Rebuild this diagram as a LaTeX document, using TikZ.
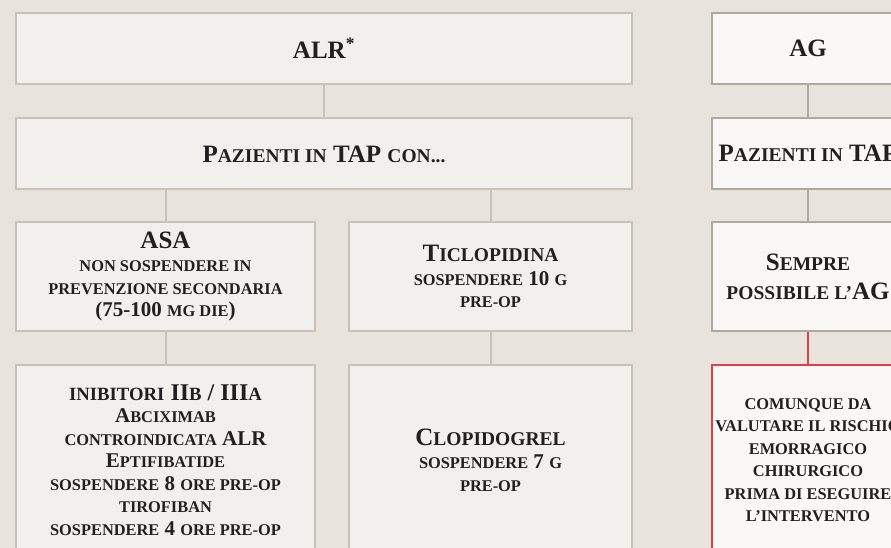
\documentclass[tikz,border=0pt]{standalone}
\usepackage{fontspec}
\setmainfont{Liberation Serif}
\usepackage{xcolor}

\definecolor{bgcol}{HTML}{E8E3DD}
\definecolor{boxfill}{HTML}{F2F0EC}
\definecolor{boxline}{HTML}{CAC2B9}
\definecolor{agfill}{HTML}{F9F8F6}
\definecolor{agline}{HTML}{B1A89E}
\definecolor{warnline}{HTML}{D8414A}
\definecolor{ink}{HTML}{231F20}

% fake small caps: uppercase text set smaller
\makeatletter
\newcommand\sm[1]{{\fontsize{\fpeval{0.78*\f@size}}{\f@baselineskip}\selectfont #1}}
\makeatother
\newcommand\hd{\fontsize{25}{29}\selectfont}

\begin{document}
\begin{tikzpicture}[x=1pt, y=-1pt,
    card/.style={draw=boxline, fill=boxfill, line width=2pt, inner sep=0pt,
        text=ink, align=center, font=\bfseries\fontsize{21}{22.5}\selectfont},
    agcard/.style={card, draw=agline, fill=agfill},
    warncard/.style={agcard, draw=warnline},
    head/.style={font=\bfseries\hd},
    wide/.style={minimum width=616pt, minimum height=71pt},
    leftcol/.style={minimum width=299pt},
    rightcol/.style={minimum width=283pt},
    agcol/.style={minimum width=192pt},
    link/.style={draw=boxline, line width=2pt}]

    % Canvas
    \useasboundingbox (0,0) rectangle (891,548);
    \clip (0,0) rectangle (891,548);
    \fill[bgcol] (0,0) rectangle (891,548);

    % ALR column
    \node[card, wide, head] (alr) at (324,48.5) {ALR\textsuperscript{*}};
    \node[card, wide, head] (pazL) at (324,154) {P\sm{AZIENTI IN} TAP \sm{CON...}};

    \node[card, leftcol, minimum height=109pt] (asa) at (165.5,276.5)
        {{\hd ASA}\\[1pt] \sm{NON SOSPENDERE IN}\\ \sm{PREVENZIONE SECONDARIA}\\ (75-100 \sm{MG DIE})};
    \node[card, rightcol, minimum height=109pt] (tic) at (490.5,276.5)
        {{\hd T\sm{ICLOPIDINA}}\\[1pt] \sm{SOSPENDERE} 10 \sm{G}\\ \sm{PRE-OP}};

    \node[card, leftcol, minimum height=190pt] (inib) at (165.5,460)
        {{\fontsize{24}{26}\selectfont\sm{INIBITORI} II\sm{B} / III\sm{A}}\\
         A\sm{BCIXIMAB}\\ \sm{CONTROINDICATA} ALR\\ E\sm{PTIFIBATIDE}\\
         \sm{SOSPENDERE} 8 \sm{ORE PRE-OP}\\ \sm{TIROFIBAN}\\ \sm{SOSPENDERE} 4 \sm{ORE PRE-OP}};
    \node[card, rightcol, minimum height=190pt] (clop) at (490.5,460)
        {{\hd C\sm{LOPIDOGREL}}\\[1pt] \sm{SOSPENDERE} 7 \sm{G}\\ \sm{PRE-OP}};

    \draw[link] (alr) -- (pazL);
    \draw[link] (pazL.south -| asa.north) -- (asa.north);
    \draw[link] (pazL.south -| tic.north) -- (tic.north);
    \draw[link] (asa) -- (inib);
    \draw[link] (tic) -- (clop);

    % AG column
    \node[agcard, agcol, minimum height=71pt, head] (ag) at (808,48.5) {AG};
    \node[agcard, agcol, minimum height=71pt, head] (pazR) at (808,153.5) {P\sm{AZIENTI IN} TAP};
    \node[agcard, agcol, minimum height=109pt, head] (sempre) at (808,276.5)
        {S\sm{EMPRE}\\ \sm{POSSIBILE L’}AG};
    \node[warncard, agcol, minimum height=190pt] (warn) at (808,460)
        {\sm{COMUNQUE DA}\\ \sm{VALUTARE IL RISCHIO}\\ \sm{EMORRAGICO}\\
         \sm{CHIRURGICO}\\ \sm{PRIMA DI ESEGUIRE}\\ \sm{L’INTERVENTO}};

    \draw[link, draw=agline] (ag) -- (pazR);
    \draw[link, draw=agline] (pazR) -- (sempre);
    \draw[link, draw=warnline] (sempre) -- (warn);
\end{tikzpicture}
\end{document}
